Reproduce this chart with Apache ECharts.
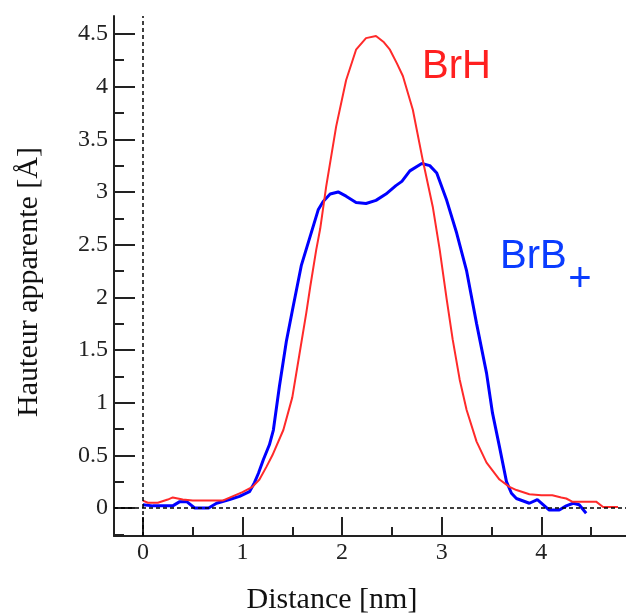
<!DOCTYPE html>
<html>
<head>
<meta charset="utf-8">
<script src="https://cdn.jsdelivr.net/npm/echarts@6/dist/echarts.min.js"></script>
<style>html,body{margin:0;padding:0;background:#fff;}#c{width:626px;height:615px;}</style>
</head>
<body>
<div id="c"></div>
<script>
// ---- data ----
var brhX = [0, 0.05, 0.15, 0.25, 0.3, 0.4, 0.5, 0.6, 0.7, 0.8, 0.9, 1.0, 1.1, 1.17, 1.24, 1.3, 1.41, 1.5, 1.57, 1.64, 1.68, 1.74, 1.78, 1.84, 1.94, 2.04, 2.14, 2.24, 2.34, 2.42, 2.48, 2.55, 2.61, 2.71, 2.81, 2.91, 2.98, 3.05, 3.11, 3.18, 3.25, 3.35, 3.45, 3.58, 3.68, 3.75, 3.88, 4.0, 4.11, 4.2, 4.25, 4.31, 4.45, 4.55, 4.62, 4.77];
var brhY = [0.07, 0.05, 0.05, 0.08, 0.1, 0.08, 0.07, 0.07, 0.07, 0.07, 0.11, 0.15, 0.2, 0.27, 0.39, 0.5, 0.74, 1.05, 1.45, 1.85, 2.1, 2.45, 2.65, 3.05, 3.62, 4.06, 4.35, 4.46, 4.48, 4.42, 4.35, 4.22, 4.1, 3.78, 3.3, 2.86, 2.45, 1.98, 1.6, 1.22, 0.93, 0.63, 0.43, 0.27, 0.2, 0.17, 0.13, 0.12, 0.12, 0.1, 0.09, 0.06, 0.06, 0.06, 0.01, 0.01];
var brbX = [0, 0.1, 0.2, 0.3, 0.37, 0.44, 0.52, 0.6, 0.66, 0.74, 0.87, 0.97, 1.07, 1.12, 1.16, 1.21, 1.27, 1.31, 1.37, 1.44, 1.51, 1.59, 1.68, 1.76, 1.81, 1.88, 1.96, 2.04, 2.14, 2.24, 2.34, 2.44, 2.54, 2.6, 2.68, 2.8, 2.88, 2.95, 3.05, 3.15, 3.25, 3.35, 3.45, 3.51, 3.58, 3.65, 3.7, 3.75, 3.88, 3.96, 4.02, 4.08, 4.18, 4.25, 4.32, 4.38, 4.45];
var brbY = [0.03, 0.02, 0.02, 0.02, 0.06, 0.06, 0.0, 0.0, 0.0, 0.045, 0.08, 0.11, 0.155, 0.24, 0.33, 0.46, 0.6, 0.74, 1.15, 1.58, 1.92, 2.3, 2.58, 2.83, 2.91, 2.98, 3.0, 2.96, 2.9, 2.89, 2.92, 2.98, 3.06, 3.1, 3.2, 3.27, 3.25, 3.18, 2.92, 2.61, 2.25, 1.75, 1.28, 0.9, 0.58, 0.25, 0.14, 0.09, 0.045, 0.08, 0.03, -0.02, -0.02, 0.02, 0.045, 0.03, -0.05];
var xMajorTicks = [0, 1, 2, 3, 4];
var xMinorTicks = [0.5, 1.5, 2.5, 3.5, 4.5];
var yMajorTicks = [0, 0.5, 1, 1.5, 2, 2.5, 3, 3.5, 4, 4.5];
var yMinorTicks = [-0.25, 0.25, 0.75, 1.25, 1.75, 2.25, 2.75, 3.25, 3.75, 4.25];
var seriesNames = ['BrH', 'BrB+'];
var xTitle = 'Distance [nm]';
var yTitle = 'Hauteur apparente [Å]';

function pairs(xs, ys) { return xs.map(function (x, i) { return [x, ys[i]]; }); }

var XMIN = -0.29, XMAX = 4.85, YMIN = -0.266, YMAX = 4.67;
var serif = '"Liberation Serif", "Times New Roman", serif';
var axisCol = '#222';

var chart = echarts.init(document.getElementById('c'), null, { renderer: 'canvas' });
chart.setOption({
  animation: false,
  backgroundColor: '#fff',
  grid: { left: 114, top: 16, right: 0, bottom: 79, containLabel: false },
  xAxis: [{
    type: 'value', min: XMIN, max: XMAX,
    axisLine: { show: true, onZero: false, lineStyle: { color: axisCol, width: 2 } },
    axisTick: { show: true, inside: true, length: 19, customValues: xMajorTicks, lineStyle: { color: axisCol, width: 2 } },
    axisLabel: { show: true, customValues: xMajorTicks, margin: 5, color: axisCol, fontFamily: serif, fontSize: 24 },
    splitLine: { show: false }
  }, {
    type: 'value', min: XMIN, max: XMAX, position: 'bottom',
    axisLine: { show: false, onZero: false },
    axisTick: { show: true, inside: true, length: 9, customValues: xMinorTicks, lineStyle: { color: axisCol, width: 2 } },
    axisLabel: { show: false },
    splitLine: { show: false }
  }],
  yAxis: [{
    type: 'value', min: YMIN, max: YMAX,
    axisLine: { show: true, onZero: false, lineStyle: { color: axisCol, width: 2 } },
    axisTick: { show: true, inside: true, length: 21, customValues: yMajorTicks, lineStyle: { color: axisCol, width: 2 } },
    axisLabel: { show: true, customValues: yMajorTicks, margin: 6, color: axisCol, fontFamily: serif, fontSize: 24 },
    splitLine: { show: false }
  }, {
    type: 'value', min: YMIN, max: YMAX, position: 'left',
    axisLine: { show: false, onZero: false },
    axisTick: { show: true, inside: true, length: 10, customValues: yMinorTicks, lineStyle: { color: axisCol, width: 2 } },
    axisLabel: { show: false },
    splitLine: { show: false }
  }],
  series: [{
    name: seriesNames[0], type: 'line', showSymbol: false, symbol: 'none',
    data: pairs(brhX, brhY),
    lineStyle: { color: '#ff2a2a', width: 2 },
    z: 3,
    markLine: {
      silent: true, symbol: 'none', label: { show: false },
      lineStyle: { color: '#000', width: 1.5, type: [4, 3] },
      data: [{ xAxis: 0 }, { yAxis: 0 }]
    }
  }, {
    name: seriesNames[1], type: 'line', showSymbol: false, symbol: 'none',
    data: pairs(brbX, brbY),
    lineStyle: { color: '#0000ff', width: 3 },
    z: 2
  }],
  graphic: [
    { type: 'text', x: 332, y: 600, style: { text: xTitle, font: '30px ' + serif, fill: '#111', textAlign: 'center', textVerticalAlign: 'middle' } },
    { type: 'text', x: 29, y: 282, rotation: Math.PI / 2, style: { text: yTitle, font: '30px ' + serif, fill: '#111', textAlign: 'center', textVerticalAlign: 'middle' } },
    { type: 'text', x: 422, y: 67, style: { text: 'BrH', font: '40px "Liberation Sans", Arial, sans-serif', fill: '#ff2020', textAlign: 'left', textVerticalAlign: 'middle' } },
    { type: 'text', x: 500, y: 257, style: { text: 'BrB', font: '40px "Liberation Sans", Arial, sans-serif', fill: '#0a3cff', textAlign: 'left', textVerticalAlign: 'middle' } },
    { type: 'text', x: 580, y: 280, style: { text: '+', font: '40px "Liberation Sans", Arial, sans-serif', fill: '#0a3cff', textAlign: 'center', textVerticalAlign: 'middle' } }
  ]
});
</script>
</body>
</html>
